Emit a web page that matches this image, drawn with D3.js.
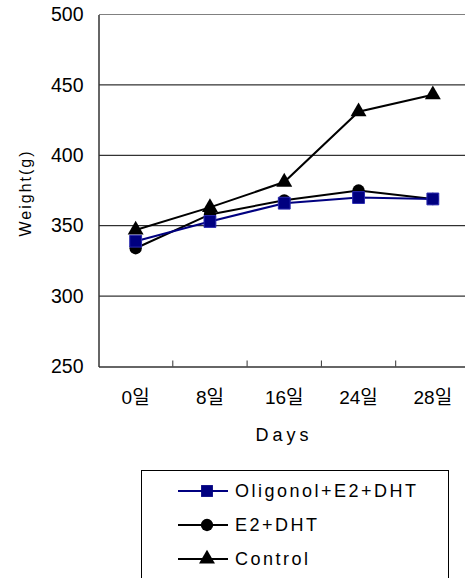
<!DOCTYPE html>
<html>
<head>
<meta charset="utf-8">
<script src="https://cdnjs.cloudflare.com/ajax/libs/d3/7.8.5/d3.min.js"></script>
<style>
    html, body { margin: 0; padding: 0; background: #fff; }
    svg text { font-family: 'Liberation Sans', 'Noto Sans CJK KR', sans-serif; fill: #000; }
</style>
</head>
<body>
<div id="chart"></div>
<script>
    var days = ["0일", "8일", "16일", "24일", "28일"];
    var yTicks = [250, 300, 350, 400, 450, 500];

    var oligonol = [339, 353, 366, 370, 369];
    var e2dht    = [334, 358, 368, 375, 369];
    var control  = [347, 363, 381, 431, 443];

    var seriesNames = ["Oligonol+E2+DHT", "E2+DHT", "Control"];

    var width = 465, height = 578;
    var svg = d3.select("#chart").append("svg")
        .attr("width", width)
        .attr("height", height);

    var x = d3.scaleBand().domain(days).range([98.5, 470]);
    var y = d3.scaleLinear().domain([250, 500]).range([366.5, 14.5]);

    // gridlines
    svg.append("g").selectAll("line")
        .data(yTicks.slice(1))
        .join("line")
        .attr("x1", 99).attr("x2", 470)
        .attr("y1", d => y(d)).attr("y2", d => y(d))
        .attr("stroke", d => d === 500 ? "#808080" : "#000")
        .attr("stroke-width", 1);

    // y axis
    var yAxis = svg.append("g")
        .attr("transform", "translate(98.5,0)")
        .call(d3.axisLeft(y).tickValues(yTicks).tickSize(0).tickPadding(15));
    yAxis.select(".domain").attr("stroke", "#333").attr("stroke-width", 1.5);
    yAxis.selectAll("text")
        .style("font-size", "19.5px")
        .attr("font-family", null);

    // x axis with ticks between categories
    var xAxis = svg.append("g")
        .attr("transform", "translate(0,366.5)")
        .call(d3.axisBottom(x).tickSize(0).tickPadding(24));
    xAxis.select(".domain").attr("stroke", "#333").attr("stroke-width", 1.5);
    xAxis.selectAll("text").style("font-size", "19px").attr("font-family", null);
    xAxis.selectAll(".boundary")
        .data(days.slice(1))
        .join("line")
        .attr("class", "boundary")
        .attr("x1", d => x(d)).attr("x2", d => x(d))
        .attr("y1", 0).attr("y2", -6)
        .attr("stroke", "#333");

    // axis titles
    svg.append("text")
        .attr("x", 284).attr("y", 441)
        .attr("text-anchor", "middle")
        .style("font-size", "18px")
        .style("letter-spacing", "4px")
        .text("Days");

    svg.append("text")
        .attr("transform", "translate(31,193) rotate(-90)")
        .attr("text-anchor", "middle")
        .style("font-size", "16px")
        .style("letter-spacing", "2px")
        .text("Weight(g)");

    var cx = d => x(d) + x.bandwidth() / 2;
    var line = d3.line().x((v, i) => cx(days[i])).y(v => y(v));

    var series = [
        {name: seriesNames[0], values: oligonol, color: "#000080", shape: d3.symbolSquare, size: 140},
        {name: seriesNames[1], values: e2dht, color: "#000", shape: d3.symbolCircle, size: 120},
        {name: seriesNames[2], values: control, color: "#000", shape: d3.symbolTriangle, size: 110}
    ];

    var drawOrder = [series[2], series[1], series[0]];
    drawOrder.forEach(function (s) {
        svg.append("path")
            .datum(s.values)
            .attr("fill", "none")
            .attr("stroke", s.color)
            .attr("stroke-width", 2)
            .attr("d", line);
        svg.append("g").selectAll("path")
            .data(s.values)
            .join("path")
            .attr("transform", (v, i) => "translate(" + cx(days[i]) + "," + y(v) + ")")
            .attr("d", d3.symbol().type(s.shape).size(s.size))
            .attr("fill", s.color)
            .attr("stroke", s.shape === d3.symbolSquare ? "#2a2ab0" : "none")
            .attr("stroke-width", 1);
    });

    // legend
    var legend = svg.append("g");
    legend.append("rect")
        .attr("x", 141.5).attr("y", 470.5)
        .attr("width", 307).attr("height", 120)
        .attr("fill", "#fff")
        .attr("stroke", "#000");

    var rows = legend.selectAll(".row")
        .data(series)
        .join("g")
        .attr("class", "row")
        .attr("transform", (d, i) => "translate(0," + (491 + i * 34) + ")");
    rows.append("line")
        .attr("x1", 178).attr("x2", 228)
        .attr("y1", 0).attr("y2", 0)
        .attr("stroke", d => d.color)
        .attr("stroke-width", 2);
    rows.append("path")
        .attr("transform", "translate(207,0)")
        .attr("d", d => d3.symbol().type(d.shape).size(d.size)())
        .attr("fill", d => d.color);
    rows.append("text")
        .attr("x", 235).attr("y", 0)
        .attr("dy", "0.35em")
        .style("font-size", "18px")
        .style("letter-spacing", "2.5px")
        .text(d => d.name);
</script>
</body>
</html>
